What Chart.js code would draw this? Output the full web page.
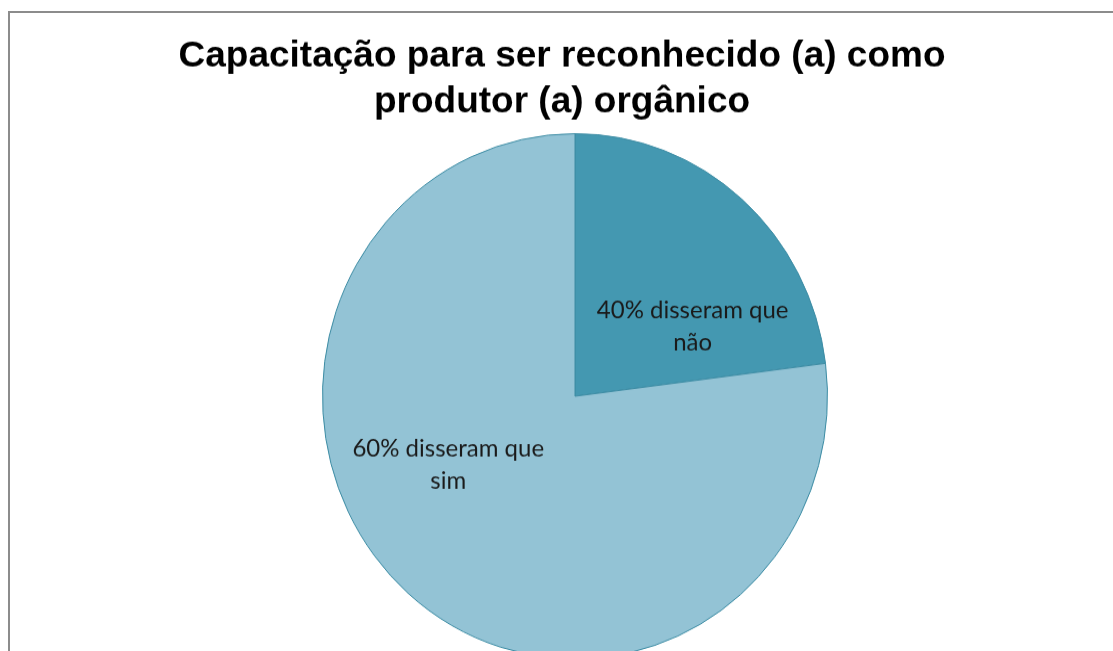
<!DOCTYPE html>
<html>
<head>
<meta charset="utf-8">
<script src="https://cdn.jsdelivr.net/npm/chart.js@4"></script>
<style>
  body { margin: 0; overflow: hidden; background: #fff; }
  #frame { position: absolute; left: 8px; top: 11px; width: 1200px; height: 800px; border: 2px solid #8c8c8c; }
  /* the original pie is slightly taller than wide, so the canvas is stretched a little */
  #chart { position: absolute; left: 0; top: 0; transform: scaleY(1.04); transform-origin: 0 0; }
</style>
</head>
<body>
<div id="frame"></div>
<canvas id="chart" width="1113" height="700"></canvas>
<script>
const titleLines = ["Capacitação para ser reconhecido (a) como", "produtor (a) orgânico"];
const categories = ["40% disseram que não", "60% disseram que sim"];
const labelLines = [["40% disseram que", "não"], ["60% disseram que", "sim"]];
// slice sizes as drawn in the picture (not the percentages in the labels)
const values = [23, 77];
const colors = ["#4498b1", "#93c3d5"];
// label centres, as fractions of the radius from the pie centre
const labelAnchors = [[0.466, -0.266], [-0.502, 0.262]];

const STRETCH = 1.04;

const titlePlugin = {
  id: "titleText",
  afterDraw(chart) {
    const ctx = chart.ctx;
    ctx.save();
    ctx.scale(1, 1 / STRETCH);
    ctx.fillStyle = "#000";
    ctx.font = "bold 37px 'Liberation Sans', Arial, sans-serif";
    ctx.textAlign = "center";
    ctx.textBaseline = "alphabetic";
    titleLines.forEach((t, i) => ctx.fillText(t, 562, 67 + i * 45));
    ctx.restore();
  }
};

const sliceLabels = {
  id: "sliceLabels",
  afterDatasetsDraw(chart) {
    const ctx = chart.ctx;
    const meta = chart.getDatasetMeta(0);
    ctx.save();
    ctx.scale(1, 1 / STRETCH);
    ctx.fillStyle = "#1a1a1a";
    ctx.font = "24px Lato, sans-serif";
    ctx.textAlign = "center";
    ctx.textBaseline = "middle";
    meta.data.forEach((arc, i) => {
      const r = arc.outerRadius;
      const cx = arc.x + labelAnchors[i][0] * r;
      const cy = (arc.y + labelAnchors[i][1] * r) * STRETCH;
      const lines = labelLines[i];
      lines.forEach((l, j) => ctx.fillText(l, cx, cy + (j - (lines.length - 1) / 2) * 32));
    });
    ctx.restore();
  }
};

new Chart(document.getElementById("chart"), {
  type: "pie",
  data: {
    labels: categories,
    datasets: [{
      data: values,
      backgroundColor: colors,
      borderColor: "#3d8ca4",
      borderWidth: 1
    }]
  },
  options: {
    responsive: false,
    animation: false,
    layout: { padding: { left: 322, right: 285, top: 128, bottom: 66 } },
    plugins: {
      legend: { display: false },
      tooltip: { enabled: false },
      title: { display: false }
    }
  },
  plugins: [titlePlugin, sliceLabels]
});
</script>
</body>
</html>
